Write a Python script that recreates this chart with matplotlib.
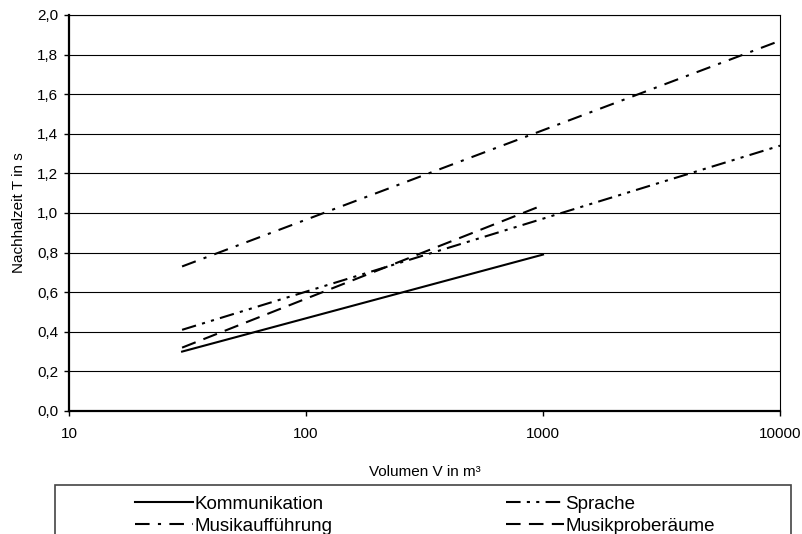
import matplotlib
matplotlib.use("Agg")
import matplotlib.pyplot as plt
from matplotlib.patches import Rectangle

plt.rcParams['font.family'] = ['Liberation Sans', 'DejaVu Sans']

# Werte (Geraden im log-Maßstab -> Endpunkte)
vol_kurz = [30, 1000]
vol_lang = [30, 10000]
kommunikation = [0.30, 0.79]
musikproberaeume = [0.32, 1.04]
sprache = [0.41, 1.34]
musikauffuehrung = [0.73, 1.87]

x_ticks = [10, 100, 1000, 10000]
x_labels = ["10", "100", "1000", "10000"]
y_ticks = [0.0, 0.2, 0.4, 0.6, 0.8, 1.0, 1.2, 1.4, 1.6, 1.8, 2.0]
y_labels = ["0,0", "0,2", "0,4", "0,6", "0,8", "1,0", "1,2", "1,4", "1,6", "1,8", "2,0"]

W, H = 803, 534
fig = plt.figure(figsize=(W / 100, H / 100), dpi=100)
ax = fig.add_axes([69 / W, 1 - 411 / H, (780 - 69) / W, (411 - 15) / H])

ax.set_xscale("log")
ax.set_xlim(10, 10000)
ax.set_ylim(0, 2.0)
ax.set_xticks(x_ticks)
ax.set_xticklabels(x_labels)
ax.minorticks_off()
ax.set_yticks(y_ticks)
ax.set_yticklabels(y_labels)
ax.tick_params(axis="both", direction="out", length=3.6, width=1, labelsize=11, colors="black")
ax.tick_params(axis="x", pad=8)
ax.tick_params(axis="y", pad=4.3)

ax.yaxis.grid(True, color="black", lw=0.8)
ax.set_axisbelow(True)
for side in ["left", "bottom"]:
    ax.spines[side].set_linewidth(1.6)
for side in ["right", "top"]:
    ax.spines[side].set_linewidth(0.8)

lw = 1.5
l1, = ax.plot(vol_kurz, kommunikation, color="black", lw=lw, ls="-", label="Kommunikation")
l2, = ax.plot(vol_lang, musikauffuehrung, color="black", lw=lw,
              ls=(0, (7, 4, 1.5, 4)), label="Musikaufführung")
l3, = ax.plot(vol_lang, sprache, color="black", lw=lw,
              ls=(0, (7, 3, 1.5, 3, 1.5, 3)), label="Sprache")
l4, = ax.plot(vol_kurz, musikproberaeume, color="black", lw=lw,
              ls=(0, (7, 4)), label="Musikproberäume")

ax.set_xlabel("Volumen V in m³", fontsize=11, labelpad=17)
ax.set_ylabel("Nachhalzeit T in s", fontsize=11, labelpad=8)

fig.add_artist(Rectangle((55 / W, -0.1), (791 - 55) / W, (534 - 485) / H + 0.1,
                         transform=fig.transFigure, fill=False, edgecolor="#444444",
                         lw=1.2, clip_on=False))

fig.legend([l1, l2, l3, l4],
           ["Kommunikation", "Musikaufführung", "Sprache", "Musikproberäume"],
           ncol=2, frameon=False, loc="upper left",
           bbox_to_anchor=(135 / W, 1 - 495.5 / H), borderpad=0, borderaxespad=0,
           handlelength=3.1, handletextpad=0.1, columnspacing=9.2,
           labelspacing=0.27, prop={"size": 13.5})

fig.savefig("out.png", dpi=100)
